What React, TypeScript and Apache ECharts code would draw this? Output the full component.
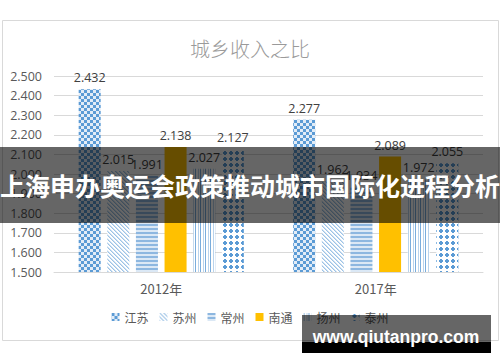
import React, { useEffect, useRef } from "react";
import * as echarts from "echarts";

const categories = ["2012年", "2017年"];
const seriesNames = ["江苏", "苏州", "常州", "南通", "扬州", "泰州"];
const jiangsu = [2.432, 2.277];
const suzhou = [2.015, 1.962];
const changzhou = [1.991, 1.934];
const nantong = [2.138, 2.089];
const yangzhou = [2.027, 1.972];
const taizhou = [2.127, 2.055];
const yTicks = { min: 1.5, max: 2.5, interval: 0.1 };
const titleText = "城乡收入之比";
const bannerText = "上海申办奥运会政策推动城市国际化进程分析";
const watermarkText = "www.qiutanpro.com";

function makeTile(w: number, h: number, draw: (ctx: CanvasRenderingContext2D) => void) {
  const c = document.createElement("canvas");
  c.width = w;
  c.height = h;
  const ctx = c.getContext("2d") as CanvasRenderingContext2D;
  draw(ctx);
  return { image: c.toDataURL(), repeat: "repeat", imageWidth: w, imageHeight: h } as any;
}

function buildPatterns() {
  const blue = "#5B9BD5";
  const checker = makeTile(6, 6, (ctx) => {
    ctx.fillStyle = "#e2ecf7";
    ctx.fillRect(0, 0, 6, 6);
    ctx.fillStyle = blue;
    ctx.fillRect(0, 0, 3, 3);
    ctx.fillRect(3, 3, 3, 3);
  });
  const diag = makeTile(4, 4, (ctx) => {
    ctx.fillStyle = "#ffffff";
    ctx.fillRect(0, 0, 4, 4);
    for (let i = 0; i < 4; i++) {
      ctx.fillStyle = "#9dc3e6";
      ctx.fillRect(i, i, 1, 1);
      ctx.fillStyle = "#cfe1f2";
      ctx.fillRect((i + 1) % 4, i, 1, 1);
    }
  });
  const horiz = makeTile(4, 4, (ctx) => {
    ctx.fillStyle = "#dbe8f5";
    ctx.fillRect(0, 0, 4, 4);
    ctx.fillStyle = "#8db7e0";
    ctx.fillRect(0, 0, 4, 2);
  });
  const vert = makeTile(5, 4, (ctx) => {
    ctx.fillStyle = "#ffffff";
    ctx.fillRect(0, 0, 5, 4);
    ctx.fillStyle = "#7aaddc";
    ctx.fillRect(0, 0, 1, 4);
    ctx.fillStyle = "#b9d3ec";
    ctx.fillRect(3, 0, 1, 4);
  });
  const dots = makeTile(6, 6, (ctx) => {
    ctx.fillStyle = "#ffffff";
    ctx.fillRect(0, 0, 6, 6);
    ctx.fillStyle = blue;
    ctx.fillRect(2, 1, 2, 4);
    ctx.fillRect(1, 2, 4, 2);
  });
  return [checker, diag, horiz, "#FFC000", vert, dots];
}

export default function App() {
  const ref = useRef<HTMLDivElement>(null);
  useEffect(() => {
    if (!ref.current) return;
    const chart = echarts.init(ref.current, null, { renderer: "svg" });
    const fills = buildPatterns();
    const values = [jiangsu, suzhou, changzhou, nantong, yangzhou, taizhou];
    const font = "'Open Sans', 'Liberation Sans', sans-serif";
    chart.setOption({
      animation: false,
      backgroundColor: "#ffffff",
      title: {
        text: titleText,
        left: "center",
        top: 33,
        textStyle: { fontSize: 20, color: "#9a9a9a", fontWeight: 300, fontFamily: "'Noto Sans CJK SC', sans-serif" },
      },
      legend: {
        data: seriesNames,
        bottom: 34,
        left: "center",
        icon: "rect",
        itemWidth: 8,
        itemHeight: 8,
        itemGap: 11,
        textStyle: { fontSize: 12, color: "#595959", fontFamily: "'Noto Sans CJK SC', sans-serif" },
      },
      grid: { left: 54, right: 17, top: 76, bottom: 90, containLabel: false },
      xAxis: {
        type: "category",
        data: categories,
        axisLine: { lineStyle: { color: "#D9D9D9" } },
        axisTick: { show: false },
        axisLabel: { color: "#595959", fontSize: 13, margin: 10, fontFamily: "'Noto Sans CJK SC', sans-serif" },
      },
      yAxis: {
        type: "value",
        min: yTicks.min,
        max: yTicks.max,
        interval: yTicks.interval,
        axisLine: { show: false },
        axisTick: { show: false },
        splitLine: { lineStyle: { color: "#D9D9D9" } },
        axisLabel: {
          color: "#595959",
          fontSize: 12.5,
          margin: 12,
          fontFamily: font,
          formatter: (v: number) => v.toFixed(3),
        },
      },
      series: seriesNames.map((name, i) => ({
        name,
        type: "bar",
        data: values[i],
        barGap: "30%",
        barCategoryGap: "23%",
        itemStyle: { color: fills[i] },
        label: {
          show: true,
          position: "top",
          distance: 5,
          color: "#404040",
          fontSize: 12.5,
          fontFamily: font,
          formatter: (p: any) => Number(p.value).toFixed(3),
        },
      })),
      graphic: [
        {
          type: "rect",
          z: -10,
          silent: true,
          shape: { x: 2.5, y: 20.5, width: 496, height: 320 },
          style: { fill: "none", stroke: "#D9D9D9", lineWidth: 1 },
        },
        {
          type: "rect",
          z: 100,
          silent: true,
          shape: { x: 0, y: 147, width: 500, height: 76 },
          style: { fill: "rgba(0,0,0,0.6)" },
        },
        {
          type: "text",
          z: 101,
          silent: true,
          x: 250,
          y: 185,
          style: {
            text: bannerText,
            fill: "#ffffff",
            fontSize: 25,
            fontWeight: "bold",
            fontFamily: "'Noto Sans CJK SC', sans-serif",
            align: "center",
            verticalAlign: "middle",
          },
        },
        {
          type: "rect",
          z: 100,
          silent: true,
          shape: { x: 302, y: 315, width: 189, height: 27 },
          style: { fill: "rgba(0,0,0,0.6)" },
        },
        {
          type: "rect",
          z: 100,
          silent: true,
          shape: { x: 302, y: 342, width: 189, height: 11 },
          style: { fill: "#000000" },
        },
        {
          type: "text",
          z: 101,
          silent: true,
          x: 396,
          y: 337,
          style: {
            text: watermarkText,
            fill: "#ffffff",
            fontSize: 17.5,
            fontWeight: "bold",
            fontFamily: "'Liberation Sans', Arial, sans-serif",
            align: "center",
            verticalAlign: "middle",
          },
        },
      ],
    });
    return () => chart.dispose();
  }, []);
  return <div ref={ref} style={{ position: "fixed", left: 0, top: 0, width: 500, height: 362 }} />;
}
